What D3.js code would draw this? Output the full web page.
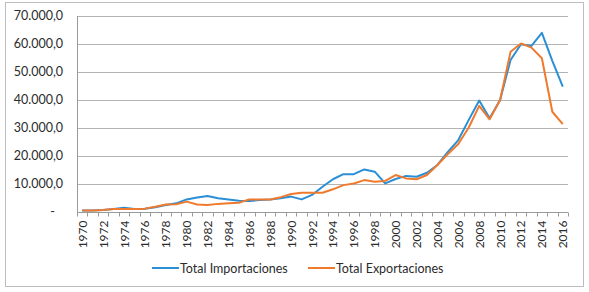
<!DOCTYPE html>
<html>
<head>
<meta charset="utf-8">
<script src="https://cdn.jsdelivr.net/npm/d3@7"></script>
<style>
  body { margin: 0; background: #fff; }
  svg text { font-family: Lato, "Open Sans", sans-serif; fill: #2b2b2b; }
</style>
</head>
<body>
<div id="chart"></div>
<script>
// años
const years = d3.range(1970, 2017);
// importaciones
const importaciones = [500, 500, 700, 1100, 1500, 1100, 1200, 1700, 2500, 3100,
  4500, 5200, 5700, 4900, 4500, 4000, 3900, 4300, 4500, 4900,
  5500, 4500, 6100, 9000, 11700, 13500, 13500, 15200, 14400, 10200,
  11800, 12900, 12600, 14000, 16800, 21500, 25700, 32900, 39800, 33500,
  40000, 54300, 59900, 59300, 64000, 54000, 44750];
// exportaciones
const exportaciones = [500, 500, 700, 1100, 1100, 1100, 1200, 1900, 2700, 2800,
  3700, 2700, 2500, 2900, 3100, 3300, 4500, 4500, 4500, 5300,
  6400, 6900, 6900, 6900, 8100, 9600, 10200, 11400, 10800, 11100,
  13200, 12000, 11700, 13200, 16800, 20700, 24300, 30200, 37900, 33100,
  40000, 57200, 60200, 58700, 54900, 35800, 31400];
const yTicks = [0, 10000, 20000, 30000, 40000, 50000, 60000, 70000];

const width = 589, height = 292;
const margin = { left: 77, right: 21, top: 16, bottom: 80 };

const svg = d3.select("#chart").append("svg")
  .attr("width", width)
  .attr("height", height);

// marco
svg.append("rect")
  .attr("x", 5.5).attr("y", 2.5)
  .attr("width", 578).attr("height", 284)
  .attr("fill", "none")
  .attr("stroke", "#bdbdbd");

const x = d3.scaleBand()
  .domain(years)
  .range([margin.left, width - margin.right]);

const y = d3.scaleLinear()
  .domain([0, 70000])
  .range([height - margin.bottom, margin.top]);

const fmt = v => v === 0 ? "-" : d3.format(",.1f")(v).replace(/,/g, "#").replace(".", ",").replace(/#/g, ".");

// rejilla
svg.append("g")
  .selectAll("line")
  .data(yTicks.slice(1))
  .join("line")
  .attr("x1", margin.left).attr("x2", width - margin.right)
  .attr("y1", d => Math.round(y(d)) + 0.5).attr("y2", d => Math.round(y(d)) + 0.5)
  .attr("stroke", "#b3b3b3");

// eje y
svg.append("g")
  .selectAll("text")
  .data(yTicks)
  .join("text")
  .attr("x", d => d === 0 ? 55 : 63)
  .attr("y", d => y(d) + 4)
  .attr("text-anchor", "end")
  .style("font-size", "12.5px")
  .text(fmt);

svg.append("line")
  .attr("x1", margin.left + 0.5).attr("x2", margin.left + 0.5)
  .attr("y1", margin.top).attr("y2", y(0))
  .attr("stroke", "#9a9a9a");

// eje x
const xAxis = svg.append("g")
  .attr("transform", `translate(0,${Math.round(y(0)) + 0.5})`);
xAxis.append("line")
  .attr("x1", margin.left).attr("x2", width - margin.right)
  .attr("stroke", "#9a9a9a");
xAxis.selectAll(".tick")
  .data(years.concat([2017]))
  .join("line")
  .attr("x1", d => Math.round(d === 2017 ? x.range()[1] : x(d)) + 0.5)
  .attr("x2", d => Math.round(d === 2017 ? x.range()[1] : x(d)) + 0.5)
  .attr("y1", 0).attr("y2", 4)
  .attr("stroke", "#9a9a9a");
xAxis.selectAll("text")
  .data(years.filter(d => d % 2 === 0))
  .join("text")
  .attr("transform", d => `translate(${x(d) + x.bandwidth() / 2 + 4.5},8) rotate(-90)`)
  .attr("text-anchor", "end")
  .style("font-size", "12px")
  .text(d => d);

// líneas
const series = [
  { name: "Total Importaciones", values: importaciones, color: "#2b8fd6" },
  { name: "Total Exportaciones", values: exportaciones, color: "#ef7a2e" }
];

const line = d3.line()
  .x((d, i) => x(years[i]) + x.bandwidth() / 2)
  .y(d => y(d));

svg.append("g")
  .selectAll("path")
  .data(series)
  .join("path")
  .attr("d", d => line(d.values))
  .attr("fill", "none")
  .attr("stroke", d => d.color)
  .attr("stroke-width", 2)
  .attr("stroke-linejoin", "round");

// leyenda
const legend = svg.append("g")
  .selectAll("g")
  .data(series)
  .join("g")
  .attr("transform", (d, i) => `translate(${i === 0 ? 152 : 308},268)`);
legend.append("line")
  .attr("x1", 0).attr("x2", 27)
  .attr("stroke", d => d.color)
  .attr("stroke-width", 2);
legend.append("text")
  .attr("x", 28).attr("y", 4.5)
  .style("font-size", "12.5px")
  .text(d => d.name);
</script>
</body>
</html>
